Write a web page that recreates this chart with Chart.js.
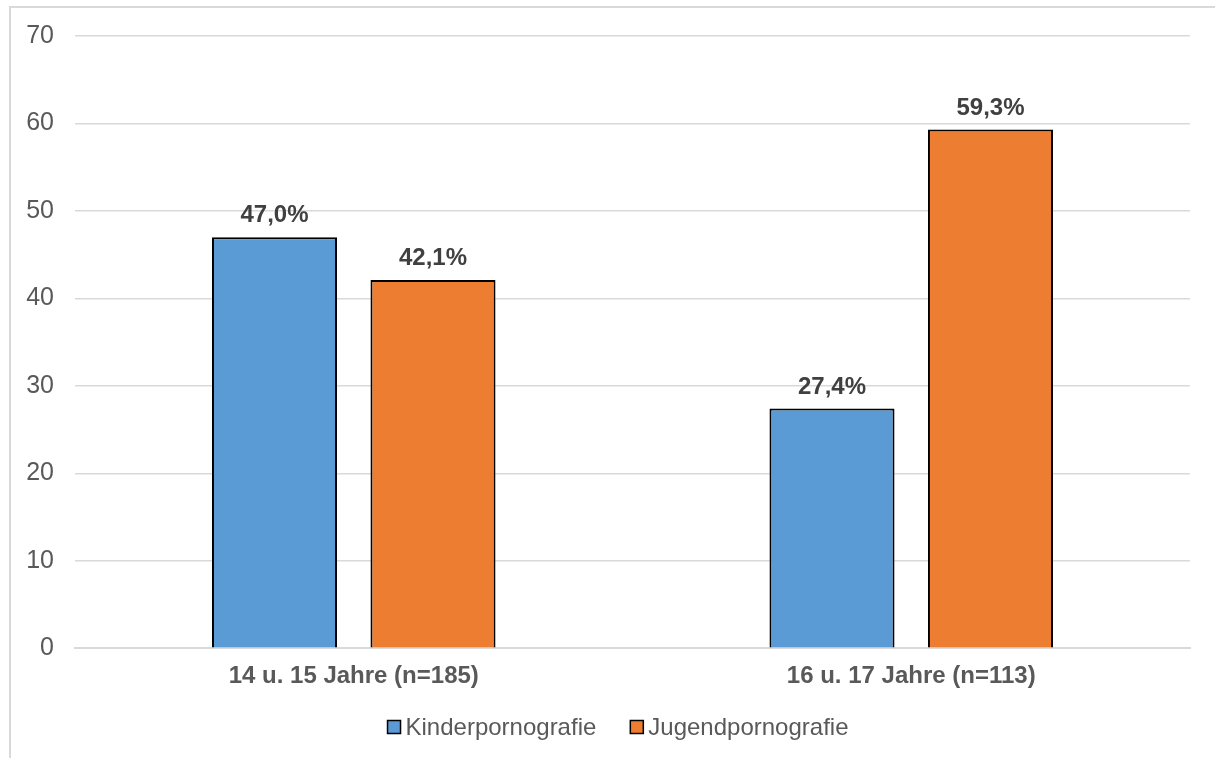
<!DOCTYPE html>
<html>
<head>
<meta charset="utf-8">
<script src="https://cdn.jsdelivr.net/npm/chart.js@4"></script>
<style>
  html, body { margin: 0; padding: 0; background: #fff; overflow: hidden; }
  #wrap { position: relative; width: 1215px; height: 758px; }
  #frame { position: absolute; left: 9px; top: 6px; width: 1220px; height: 770px;
           border-top: 2px solid #d9d9d9; border-left: 2px solid #d9d9d9; box-sizing: border-box; }
  canvas { position: absolute; left: 0; top: 0; }
</style>
</head>
<body>
<div id="wrap">
  <div id="frame"></div>
  <canvas id="chart" width="1215" height="758"></canvas>
</div>
<script>
// Daten
const categories = ['14 u. 15 Jahre (n=185)', '16 u. 17 Jahre (n=113)'];
const kinder = [47.0, 27.4];
const jugend = [42.1, 59.3];
const yTicks = [0, 10, 20, 30, 40, 50, 60, 70];

const FONT = "'Liberation Sans', Arial, sans-serif";

// Prozentwerte über den Balken
const valueLabels = {
    id: 'valueLabels',
    afterDatasetsDraw(chart) {
        const ctx = chart.ctx;
        ctx.save();
        ctx.font = 'bold 24px ' + FONT;
        ctx.fillStyle = '#404040';
        ctx.textAlign = 'center';
        ctx.textBaseline = 'alphabetic';
        chart.data.datasets.forEach((ds, i) => {
            chart.getDatasetMeta(i).data.forEach((bar, j) => {
                const txt = ds.data[j].toFixed(1).replace('.', ',') + '%';
                ctx.fillText(txt, bar.x, bar.y - 15);
            });
        });
        ctx.restore();
    }
};

// Legende unten, wie im Original (kleines Kästchen, enger Abstand zum Text)
const bottomLegend = {
    id: 'bottomLegend',
    afterDraw(chart) {
        const ctx = chart.ctx;
        ctx.save();
        ctx.font = '24px ' + FONT;
        ctx.textBaseline = 'middle';
        const box = 13, gapText = 5, gapItem = 34;
        const items = chart.data.datasets.map(ds => ({
            label: ds.label, color: ds.backgroundColor, w: ctx.measureText(ds.label).width
        }));
        let total = 0;
        items.forEach((it, i) => { total += box + gapText + it.w + (i ? gapItem : 0); });
        let x = 618 - total / 2;
        const y = 727;
        items.forEach(it => {
            ctx.fillStyle = it.color;
            ctx.fillRect(x, y - box / 2, box, box);
            ctx.strokeStyle = '#000';
            ctx.lineWidth = 1.5;
            ctx.strokeRect(x, y - box / 2, box, box);
            ctx.fillStyle = '#595959';
            ctx.textAlign = 'left';
            ctx.fillText(it.label, x + box + gapText, y + 1);
            x += box + gapText + it.w + gapItem;
        });
        ctx.restore();
    }
};

new Chart(document.getElementById('chart').getContext('2d'), {
    type: 'bar',
    data: {
        labels: categories,
        datasets: [
            {
                label: 'Kinderpornografie',
                data: kinder,
                backgroundColor: '#5b9bd5',
                borderColor: '#000',
                borderWidth: 2,
                borderSkipped: 'bottom'
            },
            {
                label: 'Jugendpornografie',
                data: jugend,
                backgroundColor: '#ed7d31',
                borderColor: '#000',
                borderWidth: 2,
                borderSkipped: 'bottom'
            }
        ]
    },
    options: {
        responsive: false,
        animation: false,
        categoryPercentage: 0.5686,
        barPercentage: 0.789,
        layout: { padding: { top: 35, right: 25, left: 0, bottom: 53 } },
        plugins: {
            legend: { display: false },
            tooltip: { enabled: false }
        },
        scales: {
            x: {
                grid: { display: false, drawTicks: false },
                border: { display: true, color: '#d9d9d9', width: 2 },
                ticks: {
                    color: '#595959',
                    padding: 14,
                    font: { family: FONT, size: 24, weight: 'bold' }
                }
            },
            y: {
                min: 0,
                max: 70,
                afterFit(scale) { scale.width = 75; },
                afterBuildTicks(scale) { scale.ticks = yTicks.map(v => ({ value: v })); },
                grid: { color: '#d9d9d9', lineWidth: 1.5, drawTicks: false },
                border: { display: false },
                ticks: {
                    color: '#595959',
                    padding: 21,
                    font: { family: FONT, size: 25 }
                }
            }
        }
    },
    plugins: [valueLabels, bottomLegend]
});
</script>
</body>
</html>
